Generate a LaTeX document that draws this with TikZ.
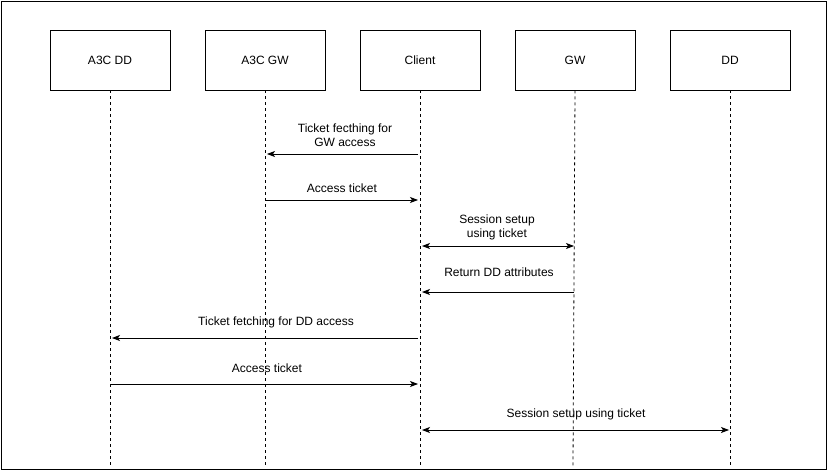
\documentclass[tikz,border=0pt]{standalone}
\usepackage{fontspec}
\setmainfont{Liberation Sans}
\usetikzlibrary{arrows.meta}
\begin{document}
\begin{tikzpicture}[x=1pt,y=-1pt,
  actor/.style={draw,line width=0.8pt,minimum width=120pt,minimum height=60pt,inner sep=0pt,font=\fontsize{12}{14}\selectfont},
  life/.style={line width=0.8pt,dash pattern=on 3pt off 3pt},
  msg/.style={line width=0.8pt,-{Stealth[length=8pt,width=6pt,inset=2pt]}},
  bimsg/.style={line width=0.8pt,{Stealth[length=8pt,width=6pt,inset=2pt]}-{Stealth[length=8pt,width=6pt,inset=2pt]}},
  lbl/.style={align=center,inner sep=0pt,font=\fontsize{12}{14}\selectfont}]
\useasboundingbox (0,0) rectangle (827,471);
\draw[line width=1pt] (1,1) rectangle (826,469.5);
% actors
\node[actor] (add) at (110,60) {A3C DD};
\node[actor] (agw) at (265,60) {A3C GW};
\node[actor] (cli) at (420,60) {Client};
\node[actor] (gw) at (575,60) {GW};
\node[actor] (dd) at (730,60) {DD};
% lifeline ends
\coordinate (addE) at (110,466);
\coordinate (agwE) at (265,466);
\coordinate (cliE) at (420,466);
\coordinate (gwE) at (573,466);
\coordinate (ddE) at (730,466);
\draw[life] (add.south) -- (addE);
\draw[life] (agw.south) -- (agwE);
\draw[life] (cli.south) -- (cliE);
\draw[life] (gw.south) -- (gwE);
\draw[life] (dd.south) -- (ddE);
% message points
\coordinate (c1) at (418,154); \coordinate (a1) at (267,154);
\coordinate (a2) at (265,200); \coordinate (c2) at (418,200);
\coordinate (c3) at (422,246); \coordinate (g3) at (574,246);
\coordinate (g4) at (574,292); \coordinate (c4) at (422,292);
\coordinate (c5) at (418,338); \coordinate (d5) at (112,338);
\coordinate (d6) at (110,384); \coordinate (c6) at (418,384);
\coordinate (c7) at (422,430); \coordinate (e7) at (729,430);
% messages
\draw[msg] (c1) -- (a1);
\node[lbl] (l1) at (345,135) {Ticket fecthing for\\ GW access};
\draw[msg] (a2) -- (c2);
\node[lbl] (l2) at (342,188) {Access ticket};
\draw[bimsg] (c3) -- (g3);
\node[lbl] (l3) at (497,227) {Session setup\\ using ticket};
\draw[msg] (g4) -- (c4);
\node[lbl] (l4) at (499,272) {Return DD attributes};
\draw[msg] (c5) -- (d5);
\node[lbl] (l5) at (276,322) {Ticket fetching for DD access};
\draw[msg] (d6) -- (c6);
\node[lbl] (l6) at (267,368) {Access ticket};
\draw[bimsg] (c7) -- (e7);
\node[lbl] (l7) at (576,414) {Session setup using ticket};
\end{tikzpicture}
\end{document}
